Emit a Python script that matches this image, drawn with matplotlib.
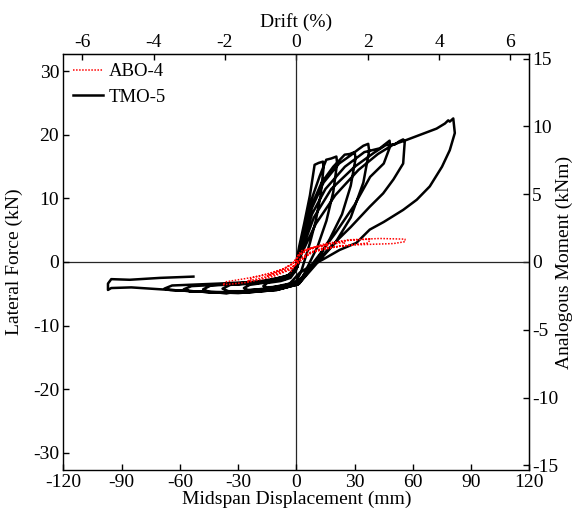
import matplotlib
matplotlib.use("Agg")
import matplotlib.pyplot as plt
import numpy as np

OUTPUT_FILENAME = "out.png"

# Axis ranges
DISP_LIM = (-120, 120)
FORCE_LIM = (-32.75, 32.75)
DRIFT_PER_MM = 6.53 / 120      # drift (%) per mm of midspan displacement
MOMENT_PER_KN = 0.4686         # kNm per kN of lateral force

DISP_TICKS = [-120, -90, -60, -30, 0, 30, 60, 90, 120]
FORCE_TICKS = [-30, -20, -10, 0, 10, 20, 30]
DRIFT_TICKS = [-6, -4, -2, 0, 2, 4, 6]
MOMENT_TICKS = [-15, -10, -5, 0, 5, 10, 15]

# TMO-5 hysteresis, one line per cycle: midspan displacement (mm)
tmo5_disp = [
    0, 1.5, 4, 7, 9.4, 11.5, 13.7, 14, 12.5, 10, 7, 4.5, 2.5, 0, -5, -10, -15, -17, -15, -8, -3, 0,
    2, 5, 8, 12, 15.4, 18, 20.6, 21, 19, 15.5, 11, 7, 3.5, 0, -8, -16, -25, -27, -24, -15, -6, -1,
    1.5, 4, 8, 13, 19, 24.9, 27.5, 30, 30.5, 28, 23.5, 17, 11, 6, 1.5, -8, -20, -35, -38, -34, -22, -10, -2,
    1, 3.5, 8, 14, 22, 28, 31.8, 34.5, 37, 37.5, 34.5, 28, 20, 12, 6, 1, -10, -25, -45, -48, -44, -30, -14, -3,
    0.5, 3, 8, 15, 25, 35, 43, 48, 48.3, 45, 38, 30, 20, 12, 6, 1, -10, -30, -55, -58, -54, -35, -15, -3,
    0.5, 3, 9, 18, 30, 40, 46, 50.7, 53, 55, 55.8, 55, 50, 44.7, 37.8, 28, 18, 10, 4, 0, -15, -36, -65,
    -68, -64, -40, -20, -5,
    0, 3, 10, 20, 32, 42, 50, 56.6, 63.6, 72.2, 76.5, 78.2, 79, 80.8, 81.6, 79, 75, 68.7, 62, 55, 45,
    37.8, 30.9, 22.3, 13.7, 6.9, 1.7, -3.4, -14, -36, -65, -85, -95.3, -97, -97, -95.3, -85.8, -70, -53,
]
# TMO-5 lateral force (kN)
tmo5_force = [
    0, 2.5, 6, 10.5, 15.3, 15.6, 15.8, 14.8, 10.5, 6.5, 3, 0.5, -1.5, -3.0, -3.6, -3.9, -4.0, -3.8, -3.3, -3.0, -2.5, -1.2,
    1.5, 6, 10, 13.5, 16.1, 16.3, 16.6, 15.6, 11, 6.5, 2.5, 0, -2.2, -3.4, -4.0, -4.3, -4.4, -4.1, -3.6, -3.2, -2.7, -1.6,
    0.5, 4.5, 9, 12.5, 15, 16.9, 17.0, 17.3, 16.3, 12, 7.5, 3.5, 0.5, -1.6, -3.4, -4.2, -4.6, -4.6, -4.2, -3.6, -3.4, -2.9, -1.9,
    -0.2, 3.5, 8.5, 12.5, 15.5, 16.8, 17.7, 18.3, 18.6, 17.5, 12.5, 7, 3, 0.3, -1.8, -3.5, -4.4, -4.8, -4.7, -4.3, -3.7, -3.5, -3.0, -2.0,
    -0.8, 2.5, 7.5, 11.5, 15, 17.3, 17.9, 19.1, 18.2, 15.5, 13.4, 9, 4.5, 1.2, -1.2, -3.5, -4.4, -4.9, -4.6, -4.3, -3.8, -3.5, -3.0, -2.0,
    -0.8, 2, 7, 11.5, 15, 17.2, 18.4, 18.5, 19.0, 19.3, 18.9, 15.5, 13, 10.8, 8.7, 5.5, 2.5, 0, -2, -3.6, -4.3, -4.9, -4.4,
    -4.2, -3.7, -3.4, -3.1, -2.3,
    -0.8, 1.5, 6, 10.5, 14.5, 17, 18.5, 19.2, 20, 21, 21.8, 22.3, 22.1, 22.6, 20.3, 17.6, 15, 11.9, 9.8, 8.2, 6.3,
    5.1, 3.0, 1.9, 0.4, -0.7, -1.7, -3.4, -4.1, -4.9, -4.4, -4.0, -4.1, -4.4, -3.4, -2.7, -2.8, -2.5, -2.3,
]

# ABO-4 hysteresis: midspan displacement (mm) and lateral force (kN)
abo4_disp = [
    0, 1, 3, 7, 12, 16, 15, 10, 5, 1, -3, -8, -13, -15, -12, -6, -2,
    1, 4, 10, 18, 25, 24, 16, 8, 2, -3, -10, -18, -25, -22, -14, -6, -1,
    2, 7, 15, 27, 38, 37, 28, 18, 8, 2, -3, -12, -25, -38, -36, -26, -17, -8, -2,
    1, 6, 15, 27.5, 43, 55.9, 56, 50, 40, 30.9, 20, 13.7, 6, 1, -3.4,
]
abo4_force = [
    0, 1.2, 1.8, 2.2, 2.5, 2.7, 2.3, 1.8, 1.0, -0.2, -0.9, -1.5, -2.0, -2.2, -1.8, -1.0, -0.3,
    0.9, 1.7, 2.3, 2.8, 3.1, 2.6, 2.1, 1.5, 0.3, -1.1, -1.9, -2.5, -3.0, -2.4, -1.8, -1.0, 0,
    1.2, 2.0, 2.8, 3.4, 3.6, 3.0, 2.7, 2.3, 1.6, 0.3, -1.2, -2.3, -3.2, -3.6, -3.1, -2.6, -2.1, -1.3, -0.3,
    1.0, 2.0, 2.9, 3.5, 3.7, 3.6, 3.2, 2.9, 2.8, 2.7, 2.4, 2.2, 1.4, 0.3, -1.8,
]


def main() -> None:
    plt.rcParams["font.family"] = ["Liberation Serif", "DejaVu Serif"]
    plt.rcParams["font.size"] = 14
    plt.rcParams["axes.unicode_minus"] = False

    fig = plt.figure(figsize=(5.84, 5.19), dpi=100)
    ax = fig.add_axes([0.1084, 0.0944, 0.7981, 0.8016])

    ax.axhline(0, color="0.15", lw=0.9, zorder=1)
    ax.axvline(0, color="0.15", lw=0.9, zorder=1)

    (tmo_line,) = ax.plot(tmo5_disp, tmo5_force, color="black", lw=1.8,
                          solid_joinstyle="round", label="TMO-5", zorder=2)
    (abo_line,) = ax.plot(abo4_disp, abo4_force, color="red", lw=1.1,
                          linestyle=(0, (1, 1)), label="ABO-4", zorder=3)

    ax.set_xlim(*DISP_LIM)
    ax.set_ylim(*FORCE_LIM)
    ax.set_xticks(DISP_TICKS)
    ax.set_yticks(FORCE_TICKS)
    ax.set_xlabel("Midspan Displacement (mm)", labelpad=0)
    ax.set_ylabel("Lateral Force (kN)", labelpad=7)
    ax.tick_params(direction="in", length=4, width=1, pad=3)
    for spine in ax.spines.values():
        spine.set_linewidth(1.0)

    top = ax.secondary_xaxis("top", functions=(lambda d: d * DRIFT_PER_MM,
                                               lambda p: p / DRIFT_PER_MM))
    top.set_xticks(DRIFT_TICKS)
    top.set_xlabel("Drift (%)", labelpad=5)
    top.tick_params(direction="in", length=4, width=1, pad=2)

    right = ax.secondary_yaxis("right", functions=(lambda f: f * MOMENT_PER_KN,
                                                   lambda m: m / MOMENT_PER_KN))
    right.set_yticks(MOMENT_TICKS)
    right.set_ylabel("Analogous Moment (kNm)", labelpad=-2)
    right.tick_params(direction="in", length=4, width=1, pad=2)

    ax.legend(handles=[abo_line, tmo_line], loc="upper left",
              bbox_to_anchor=(0.021, 0.978), frameon=False, fontsize=13.5,
              borderaxespad=0, borderpad=0, handlelength=1.6,
              handletextpad=0.3, labelspacing=0.45)

    fig.savefig(OUTPUT_FILENAME, dpi=100)


if __name__ == "__main__":
    main()
